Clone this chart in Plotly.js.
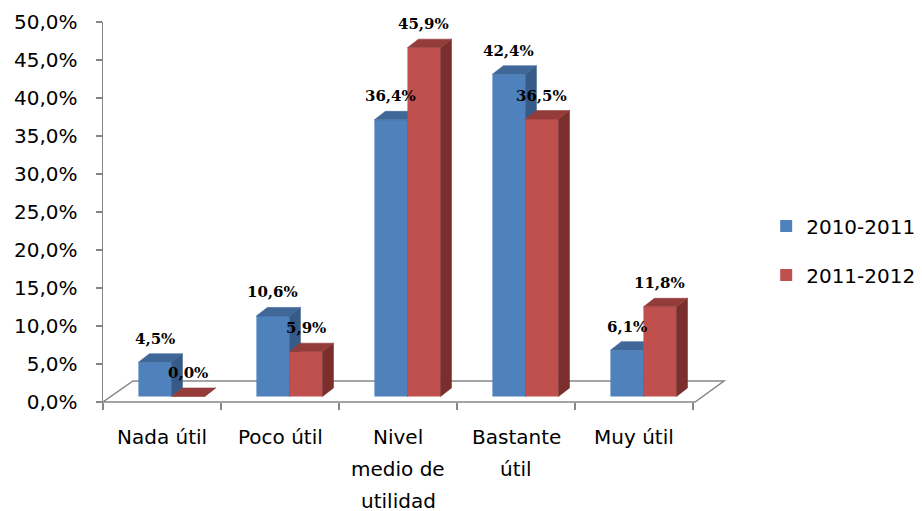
<!DOCTYPE html>
<html>
<head>
<meta charset="utf-8">
<script src="https://cdn.plot.ly/plotly-3.0.1.min.js"></script>
<style>html,body{margin:0;padding:0;background:#fff;}</style>
</head>
<body>
<div id="chart" style="width:922px;height:511px;"></div>
<script>
// Categories and values (percent)
const categories = ['Nada útil', 'Poco útil', 'Nivel medio de utilidad', 'Bastante útil', 'Muy útil'];
const categoryLines = [['Nada útil'], ['Poco útil'], ['Nivel', 'medio de', 'utilidad'], ['Bastante', 'útil'], ['Muy útil']];
const seriesNames = ['2010-2011', '2011-2012'];
const values2010 = [4.5, 10.6, 36.4, 42.4, 6.1];
const values2011 = [0.0, 5.9, 45.9, 36.5, 11.8];
const yTicks = [0, 5, 10, 15, 20, 25, 30, 35, 40, 45, 50];

// Pseudo-3D column styling
const BAR_W = 0.28;            // front face width, category units
const OFFSETS = [-0.2, 0.08];  // front face left edge relative to category centre
const DX = 0.093;              // depth offset, x units
const DY = 1.12;               // depth offset, value units
const FRONT = ['#4F81BD', '#C0504D'];
const TOP = ['#3F6797', '#933C3A'];
const SIDE = ['#375B88', '#7A2F2D'];

const series = [values2010, values2011];
const idx = categories.map((_, i) => i);
const fmt = v => v.toFixed(1).replace('.', ',') + '%';

// Empty trace so the value axis (x/y subplot) gets drawn
const traces = [{
  type: 'scatter', mode: 'markers', x: [], y: [],
  xaxis: 'x', yaxis: 'y', showlegend: false, hoverinfo: 'skip'
}];
const annotations = [];

series.forEach((vals, s) => {
  const yax = 'y' + (s + 2);
  traces.push({
    type: 'bar', name: seriesNames[s], x: idx, y: vals,
    width: BAR_W, offset: OFFSETS[s],
    xaxis: 'x', yaxis: yax,
    marker: {color: FRONT[s], line: {width: 0}},
    legendgroup: 'g' + s, hoverinfo: 'skip'
  });
  const topX = [], topY = [], sideX = [], sideY = [];
  vals.forEach((v, i) => {
    const L = i + OFFSETS[s], R = L + BAR_W;
    topX.push(L, R, R + DX, L + DX, L, null);
    topY.push(v, v, v + DY, v + DY, v, null);
    sideX.push(R, R + DX, R + DX, R, R, null);
    sideY.push(0, DY, v + DY, v, 0, null);
    annotations.push({
      x: L + BAR_W / 2, xref: 'x', y: v + DY, yref: yax,
      yanchor: 'bottom', yshift: 4, showarrow: false,
      text: fmt(v),
      font: {family: 'DejaVu Serif', size: 15, color: '#000', weight: 'bold'}
    });
  });
  traces.push({
    type: 'scatter', mode: 'lines', x: sideX, y: sideY, fill: 'toself',
    fillcolor: SIDE[s], line: {width: 0.6, color: SIDE[s]},
    xaxis: 'x', yaxis: yax, showlegend: false, hoverinfo: 'skip'
  });
  traces.push({
    type: 'scatter', mode: 'lines', x: topX, y: topY, fill: 'toself',
    fillcolor: TOP[s], line: {width: 0.6, color: TOP[s]},
    xaxis: 'x', yaxis: yax, showlegend: false, hoverinfo: 'skip'
  });
});

// Category labels, one annotation per text line
categoryLines.forEach((lines, i) => {
  lines.forEach((t, j) => {
    annotations.push({
      x: i, xref: 'x', y: 0, yref: 'paper', yanchor: 'top',
      yshift: -(21 + 32 * j), showarrow: false, text: t,
      font: {family: 'DejaVu Sans', size: 20, color: '#000'}
    });
  });
});

const layout = {
  width: 922, height: 511, autosize: false,
  margin: {l: 103, r: 198, t: 22, b: 109, pad: 0},
  paper_bgcolor: '#fff', plot_bgcolor: 'rgba(0,0,0,0)',
  font: {family: 'DejaVu Sans', size: 20, color: '#000'},
  barmode: 'overlay',
  showlegend: true,
  legend: {
    xref: 'container', yref: 'container',
    x: 0.831, xanchor: 'left', y: 0.596, yanchor: 'top',
    traceorder: 'grouped', tracegroupgap: 20,
    font: {family: 'DejaVu Sans', size: 20, color: '#000'},
    bgcolor: 'rgba(0,0,0,0)', itemwidth: 30
  },
  xaxis: {
    range: [-0.5, 4.7627],
    tickvals: [-0.5, 0.5, 1.5, 2.5, 3.5, 4.5],
    ticks: 'outside', ticklen: 7, tickwidth: 1.5, tickcolor: '#868686',
    showticklabels: false, showgrid: false, zeroline: false, showline: false,
    fixedrange: true
  },
  yaxis: {
    range: [0, 50], tickvals: yTicks, ticktext: yTicks.map(fmt),
    ticks: 'outside', ticklen: 6, tickwidth: 1.5, tickcolor: '#868686',
    showline: true, linecolor: '#868686', linewidth: 1.5,
    showgrid: false, zeroline: false, ticklabelstandoff: 14,
    tickfont: {family: 'DejaVu Sans', size: 20, color: '#000'},
    fixedrange: true
  },
  yaxis2: {overlaying: 'y', range: [-0.724, 49.276], visible: false, fixedrange: true},
  yaxis3: {overlaying: 'y', range: [-0.724, 49.276], visible: false, fixedrange: true},
  shapes: [{
    type: 'path', xref: 'paper', yref: 'paper', layer: 'below',
    path: 'M 0,0 L 0.9533,0 L 1,0.0553 L 0.0483,0.0553 Z',
    line: {color: '#868686', width: 1.5}
  }],
  annotations: annotations
};

Plotly.newPlot('chart', traces, layout, {displayModeBar: false, staticPlot: true});
</script>
</body>
</html>
